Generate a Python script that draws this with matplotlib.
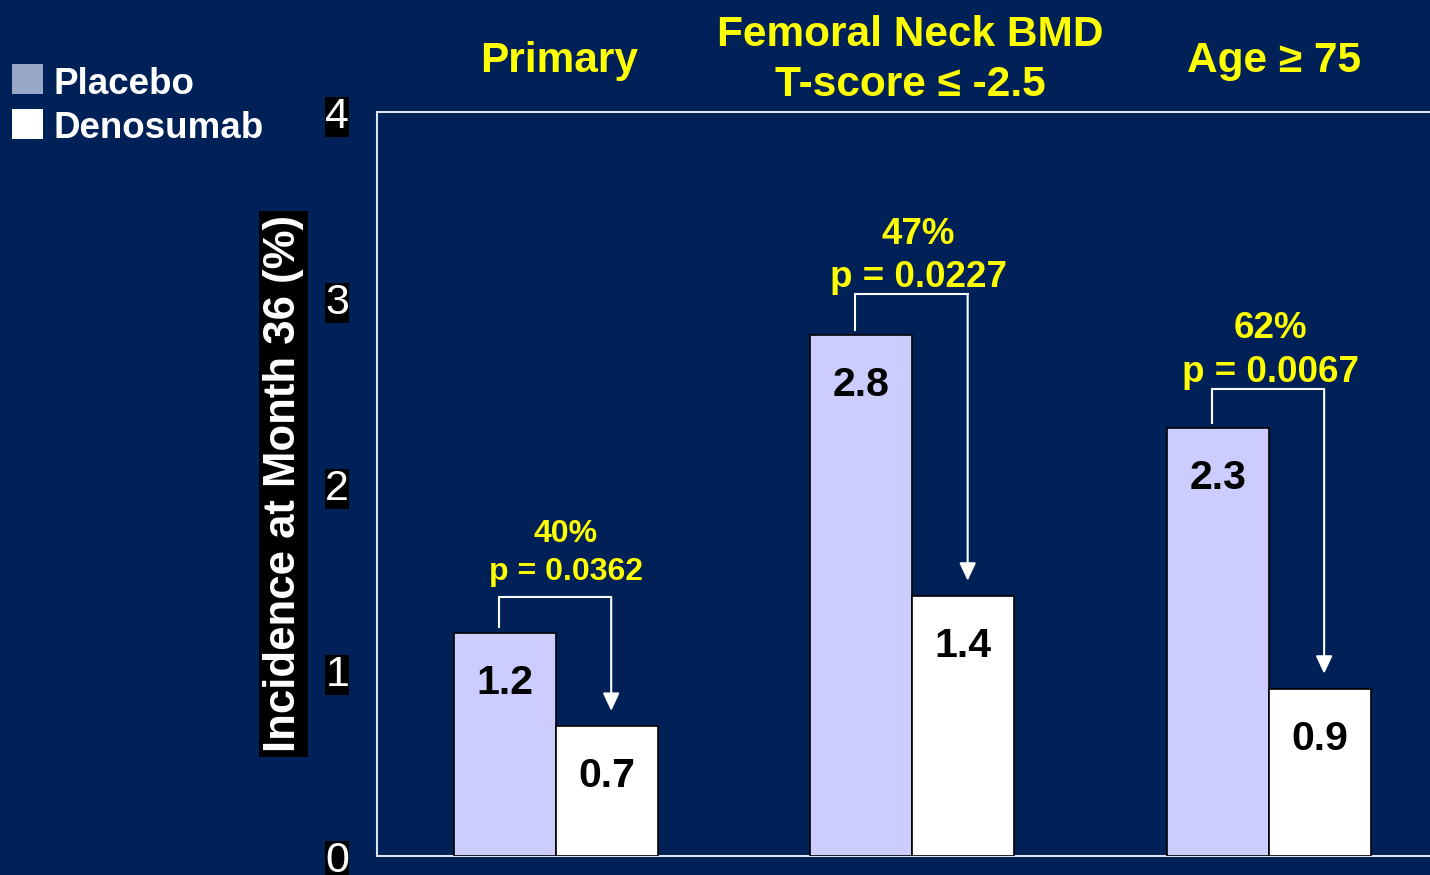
import matplotlib
matplotlib.use("Agg")
import matplotlib.pyplot as plt
from matplotlib.patches import Rectangle

plt.rcParams['font.family'] = ['Liberation Sans', 'DejaVu Sans']

# Data
groups = ["Primary", "Femoral Neck BMD\nT-score \u2264 -2.5", "Age \u2265 75"]
placebo = [1.2, 2.8, 2.3]
denosumab = [0.7, 1.4, 0.9]
reductions = ["40%", "47%", "62%"]
p_values = ["p = 0.0362", "p = 0.0227", "p = 0.0067"]
series_names = ["Placebo", "Denosumab"]
y_ticks = [0, 1, 2, 3, 4]

BG = "#002157"
PLACEBO_FACE = "#CCCCFF"
LEGEND_PLACEBO = "#99A8C8"
YELLOW = "#FFFF00"

W, H = 1430, 875
fig = plt.figure(figsize=(W / 100, H / 100), dpi=100, facecolor=BG)

def fx(px):
    return px / W

def fy(py):
    return 1 - py / H

ax = fig.add_axes([fx(377), fy(856), fx(1430) - fx(377), fy(112) - fy(856)])
ax.set_facecolor(BG)

bar_w = 0.286
x = list(range(len(groups)))
xp = [g - bar_w / 2 for g in x]
xd = [g + bar_w / 2 for g in x]

ax.bar(xp, placebo, width=bar_w, color=PLACEBO_FACE, edgecolor="black", linewidth=1.2, zorder=3)
ax.bar(xd, denosumab, width=bar_w, color="white", edgecolor="black", linewidth=1.2, zorder=3)

ax.set_xlim(-0.502, 2.452)
ax.set_ylim(0, 4)

# value labels inside the bars
for xs, vals in ((xp, placebo), (xd, denosumab)):
    for xi, v in zip(xs, vals):
        ax.annotate(f"{v:g}", xy=(xi, v), xytext=(0, -36), textcoords="offset points",
                    ha="center", va="center", fontsize=29.5, fontweight="bold",
                    color="black", zorder=4)

# reduction brackets with arrow down to the treatment bar
note_sizes = [23, 26.5, 26.5]
p_offsets = [18, 12, 12]
pct_offsets = [46, 43, 44]
text_shift = [0.03, 0.02, 0.008]
top_gap = [0.19, 0.22, 0.21]
for i in x:
    xl = xp[i] - 0.017
    xr = xd[i] + 0.012
    top = placebo[i] + top_gap[i]
    ax.plot([xl, xl, xr], [placebo[i] + 0.03, top, top], color="white", lw=1.5,
            solid_joinstyle="miter", zorder=5)
    ax.annotate("", xy=(xr, denosumab[i] + 0.08), xytext=(xr, top),
                arrowprops=dict(arrowstyle="-|>,head_length=0.9,head_width=0.42",
                                color="white", lw=1.5, shrinkA=0, shrinkB=0,
                                mutation_scale=12),
                zorder=5)
    xm = (xl + xr) / 2 + text_shift[i]
    ax.annotate(p_values[i], xy=(xm, top), xytext=(0, p_offsets[i]), textcoords="offset points",
                ha="center", va="center", fontsize=note_sizes[i], fontweight="bold",
                color=YELLOW)
    ax.annotate(reductions[i], xy=(xm, top), xytext=(0, pct_offsets[i]), textcoords="offset points",
                ha="center", va="center", fontsize=note_sizes[i], fontweight="bold",
                color=YELLOW)

# group titles above the frame
title_y = [61, 60, 61]
title_shift = [0.01, -0.005, 0.015]
for i, name in enumerate(groups):
    xc = (xp[i] + xd[i]) / 2 + title_shift[i]
    fig.text(ax.transData.transform((xc, 0))[0] / W, fy(title_y[i]), name,
             ha="center", va="center", fontsize=30.5, fontweight="bold",
             color=YELLOW, linespacing=1.32)

# frame
for side in ("left", "top", "bottom"):
    ax.spines[side].set_color("#DDE2EE")
    ax.spines[side].set_linewidth(1.5)
ax.spines["right"].set_visible(False)

ax.set_xticks([])
ax.set_yticks(y_ticks)
ax.set_yticklabels([str(t) for t in y_ticks])
ax.tick_params(axis="y", length=0, pad=20)
for lab in ax.get_yticklabels():
    lab.set_fontsize(31)
    lab.set_color("white")
    lab.set_bbox(dict(facecolor="black", edgecolor="none", pad=0))

fig.text(fx(283.5), fy(484), "Incidence at Month 36 (%)", rotation=90,
         ha="center", va="center", fontsize=31.5, fontweight="bold", color="white",
         bbox=dict(facecolor="black", edgecolor="none", pad=3))

# legend
swatches = [LEGEND_PLACEBO, "white"]
for k, (name, col) in enumerate(zip(series_names, swatches)):
    top_px = 64 + k * 45
    fig.patches.append(Rectangle((fx(12), fy(top_px + 30)), fx(31), fy(0) - fy(30),
                                 transform=fig.transFigure, facecolor=col,
                                 edgecolor="none"))
    fig.text(fx(53), fy(top_px + 20), name, ha="left", va="center",
             fontsize=26.5, fontweight="bold", color="white")

fig.savefig("out.png", dpi=100, facecolor=BG)
